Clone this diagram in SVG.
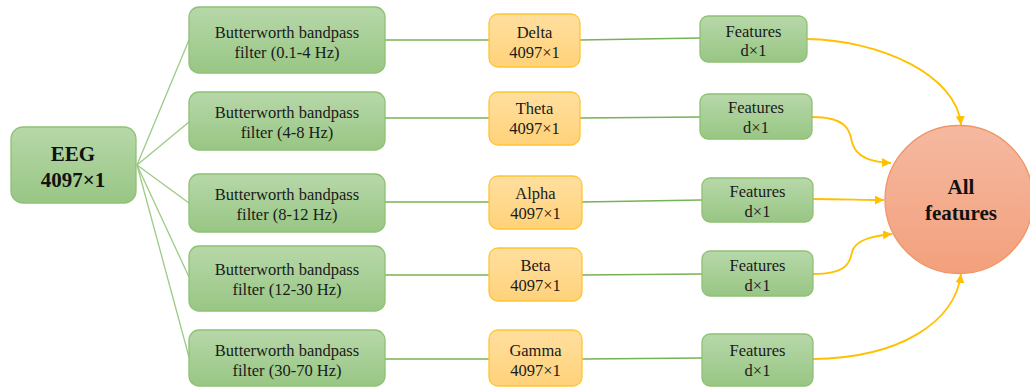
<svg xmlns="http://www.w3.org/2000/svg" width="1030" height="387" viewBox="0 0 1030 387">
<style>
.g{fill:url(#gg);stroke:#8fc173;stroke-width:1.3}
.o{fill:url(#og);stroke:#ffc533;stroke-width:1.3}
.t{font-family:"Liberation Serif","Times New Roman",serif;font-size:16.5px;fill:#1a1a1a;text-anchor:middle}
.b{font-family:"Liberation Serif","Times New Roman",serif;font-size:21px;font-weight:bold;fill:#111;text-anchor:middle}
.gl{fill:none;stroke:#77b255;stroke-width:1.6}
.gl2{fill:none;stroke:#9ccb85;stroke-width:1.3}
.yl{fill:none;stroke:#ffc000;stroke-width:1.8;marker-end:url(#ah)}
</style>
<defs>
<linearGradient id="gg" x1="0" y1="0" x2="0" y2="1"><stop offset="0" stop-color="#b7d8a9"/><stop offset="1" stop-color="#98c684"/></linearGradient>
<linearGradient id="og" x1="0" y1="0" x2="0" y2="1"><stop offset="0" stop-color="#ffdf9f"/><stop offset="1" stop-color="#ffd27a"/></linearGradient>
<linearGradient id="cg" x1="0" y1="0" x2="0" y2="1"><stop offset="0" stop-color="#f5b9a0"/><stop offset="1" stop-color="#f3a07c"/></linearGradient>
<marker id="ah" markerUnits="userSpaceOnUse" markerWidth="10" markerHeight="10" refX="9" refY="4.5" orient="auto"><path d="M0,0 L9,4.5 L0,9 z" fill="#ffc000"/></marker>
</defs>
<g id="connectors">
<path class="gl2" d="M137,165 L189,40"/>
<path class="gl2" d="M137,165 L189,122"/>
<path class="gl2" d="M137,165 L189,203"/>
<path class="gl2" d="M137,165 L189,277"/>
<path class="gl2" d="M137,165 L189,357"/>
<path class="gl" d="M385,40 L489,40"/>
<path class="gl" d="M385,118 L489,118"/>
<path class="gl" d="M385,202 L489,202"/>
<path class="gl" d="M385,275 L489,275"/>
<path class="gl" d="M385,359 L489,359"/>
<path class="gl" d="M580,40 L700,38"/>
<path class="gl" d="M580,118 L700,117"/>
<path class="gl" d="M582,202 L702,200"/>
<path class="gl" d="M582,275 L702,274"/>
<path class="gl" d="M582,359 L702,358"/>
<path class="yl" d="M807,39 C880,40 957,75 961,125"/>
<path class="yl" d="M812,117 C846,117 850,130 852,142 C856,158 872,162 891,163"/>
<path class="yl" d="M813,199 C845,199 860,200 884,200"/>
<path class="yl" d="M813,274 C845,274 850,264 852,252 C855,240 872,236 892,234"/>
<path class="yl" d="M813,359 C900,358 955,322 961,274"/>
</g>
<g id="eeg"><rect class="g" x="11" y="127" width="125" height="76" rx="12"/><text class="b" x="73" y="160.5">EEG</text><text class="b" x="73" y="186.5">4097×1</text></g>
<g id="filter1"><rect class="g" x="189" y="7" width="196" height="66" rx="10"/><text class="t" x="287" y="37.5">Butterworth bandpass</text><text class="t" x="287" y="57.5">filter (0.1-4 Hz)</text></g>
<g id="filter2"><rect class="g" x="189" y="92" width="196" height="58" rx="10"/><text class="t" x="287" y="117.5">Butterworth bandpass</text><text class="t" x="287" y="137.5">filter (4-8 Hz)</text></g>
<g id="filter3"><rect class="g" x="189" y="174" width="196" height="58" rx="10"/><text class="t" x="287" y="199.5">Butterworth bandpass</text><text class="t" x="287" y="219.5">filter (8-12 Hz)</text></g>
<g id="filter4"><rect class="g" x="189" y="246" width="196" height="65" rx="10"/><text class="t" x="287" y="274.5">Butterworth bandpass</text><text class="t" x="287" y="294.5">filter (12-30 Hz)</text></g>
<g id="filter5"><rect class="g" x="189" y="330" width="196" height="56" rx="10"/><text class="t" x="287" y="355.5">Butterworth bandpass</text><text class="t" x="287" y="375.5">filter (30-70 Hz)</text></g>
<g id="delta"><rect class="o" x="489" y="14" width="91" height="53" rx="9"/><text class="t" x="534.5" y="37.5">Delta</text><text class="t" x="534.5" y="57.5">4097×1</text></g>
<g id="theta"><rect class="o" x="489" y="92" width="91" height="53" rx="9"/><text class="t" x="534.5" y="113.5">Theta</text><text class="t" x="534.5" y="133.5">4097×1</text></g>
<g id="alpha"><rect class="o" x="489" y="176" width="93" height="53" rx="9"/><text class="t" x="535.5" y="198.5">Alpha</text><text class="t" x="535.5" y="218.5">4097×1</text></g>
<g id="beta"><rect class="o" x="489" y="248" width="93" height="53" rx="9"/><text class="t" x="535.5" y="270.5">Beta</text><text class="t" x="535.5" y="290.5">4097×1</text></g>
<g id="gamma"><rect class="o" x="489" y="330" width="93" height="56" rx="9"/><text class="t" x="535.5" y="355.5">Gamma</text><text class="t" x="535.5" y="375.5">4097×1</text></g>
<g id="feat1"><rect class="g" x="700" y="16" width="107" height="46" rx="8"/><text class="t" x="753.5" y="36.5">Features</text><text class="t" x="753.5" y="55.5">d×1</text></g>
<g id="feat2"><rect class="g" x="700" y="94" width="112" height="45" rx="8"/><text class="t" x="756" y="112.5">Features</text><text class="t" x="756" y="132.5">d×1</text></g>
<g id="feat3"><rect class="g" x="702" y="178" width="111" height="44" rx="8"/><text class="t" x="757.5" y="196.5">Features</text><text class="t" x="757.5" y="216.5">d×1</text></g>
<g id="feat4"><rect class="g" x="702" y="251" width="111" height="45" rx="8"/><text class="t" x="757.5" y="270.5">Features</text><text class="t" x="757.5" y="290.5">d×1</text></g>
<g id="feat5"><rect class="g" x="702" y="334" width="111" height="52" rx="8"/><text class="t" x="757.5" y="355.5">Features</text><text class="t" x="757.5" y="375.5">d×1</text></g>
<g id="all"><circle cx="959" cy="199.5" r="74" fill="url(#cg)" stroke="#ef9566" stroke-width="1.3"/><text class="b" x="961" y="194">All</text><text class="b" x="961" y="220">features</text></g>
</svg>
